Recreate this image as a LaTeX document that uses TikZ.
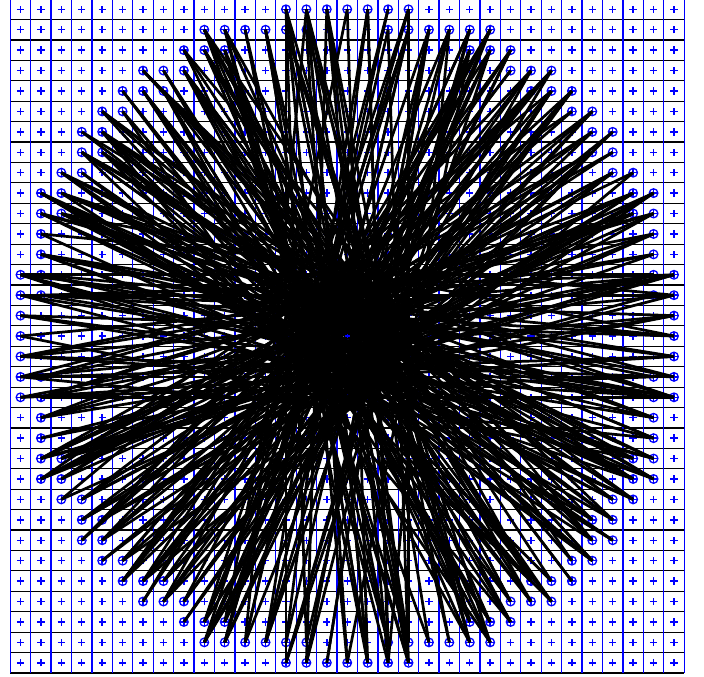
\documentclass[tikz,border=0pt]{standalone}
\begin{document}
\begin{tikzpicture}[x=0.5cm,y=0.5cm,
  vline/.style={draw=blue,line width=0.9pt},
  hline/.style={draw=black,line width=0.8pt},
  plusmark/.style={draw=blue,line width=1pt},
  ringpt/.style={circle,draw=blue,line width=0.9pt,minimum size=6pt,inner sep=0pt},
  spoke/.style={draw=black,line width=1.9pt}]
\useasboundingbox (-0.504,-0.196) rectangle (33.97,32.956);
% grid
\foreach \i in {0,...,33} \draw[hline] (0,\i) -- (33,\i);
\foreach \i in {0,...,33} \draw[vline] (\i,0) -- (\i,33);
% plus marks in every cell
\foreach \i in {0,...,32} {
  \foreach \j in {0,...,32} {
    \draw[plusmark] (\i+0.5,\j+0.5) +(-0.18,0) -- +(0.18,0) +(0,-0.18) -- +(0,0.18);
  }
}
% ring points (one quadrant, rotated four times)
\def\ringpts{16/0,16/1,16/2,15/2,16/3,15/3,15/4,15/5,15/6,14/6,15/7,14/7,14/8,13/8,13/9,12/9,13/10,12/10,12/11,11/11,11/12,10/12,10/13,9/12,9/13,8/13,8/14,7/14,7/15,6/14,6/15,5/15,4/15,3/15,3/16,2/15,2/16,1/16}
\foreach \q in {0,1,2,3} {
  \foreach \a/\b [count=\m from 0] in \ringpts {
    \pgfmathtruncatemacro{\idx}{38*\q+\m}
    \pgfmathsetmacro{\px}{16.5+\a*cos(90*\q)-\b*sin(90*\q)}
    \pgfmathsetmacro{\py}{16.5+\a*sin(90*\q)+\b*cos(90*\q)}
    \node[ringpt] (p\idx) at (\px,\py) {};
  }
}
% spokes between nearly opposite ring points
\foreach \i in {0,...,151} {
  \pgfmathtruncatemacro{\r}{mod(\i,19)}
  \pgfmathtruncatemacro{\ka}{mod(\r*\r*7+\i*3,19)-9}
  \pgfmathtruncatemacro{\ja}{mod(\i+76+\ka+152,152)}
  \draw[spoke] (p\i.center) -- (p\ja.center);
  \pgfmathtruncatemacro{\s}{mod(\i,11)}
  \pgfmathtruncatemacro{\kb}{mod(\s*\s*5+\i*7,11)-5}
  \pgfmathtruncatemacro{\jb}{mod(\i+76+\kb+152,152)}
  \draw[spoke] (p\i.center) -- (p\jb.center);
}
\coordinate (ctr) at (16.5,16.5);
\draw[plusmark,line width=1pt] (ctr) +(-0.12,0) -- +(0.12,0) +(0,-0.12) -- +(0,0.12);
\end{tikzpicture}
\end{document}
